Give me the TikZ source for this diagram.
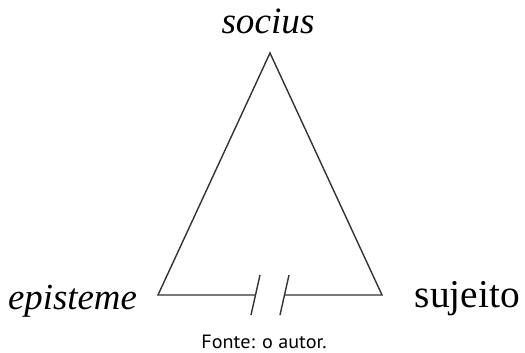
\documentclass[tikz,border=0pt]{standalone}
\usepackage{fontspec}
\setmainfont{Liberation Serif}
\newfontfamily\capfont{PT Sans}
\begin{document}
\begin{tikzpicture}[x=0.5pt,y=-0.5pt,
  edge/.style={draw=black!80,line width=0.7pt},
  lbl/.style={inner sep=0pt,anchor=base}]
\useasboundingbox (0,0) rectangle (525,353);
\coordinate (apex) at (270,53);
\coordinate (bl) at (158,295);
\coordinate (br) at (382,295);
\coordinate (gl) at (255.5,295);
\coordinate (gr) at (284.5,295);
\coordinate (s1t) at (260,275);
\coordinate (s1b) at (251,315);
\coordinate (s2t) at (289,275);
\coordinate (s2b) at (280,315);
\draw[edge,line join=miter] (gl) -- (bl) -- (apex) -- (br) -- (gr);
\draw[edge] (s1t) -- (s1b);
\draw[edge] (s2t) -- (s2b);
\node[lbl,font=\fontsize{18.6}{20}\selectfont\itshape] (socius) at (268,34) {socius};
\node[lbl,font=\fontsize{18.4}{20}\selectfont\itshape] (episteme) at (72.5,309) {episteme};
\node[lbl,font=\fontsize{19.7}{22}\selectfont] (sujeito) at (467.5,307) {sujeito};
\node[lbl,font=\capfont\fontsize{9.6}{11}\selectfont,xscale=1.05] (fonte) at (264,348) {Fonte: o autor.};
\end{tikzpicture}
\end{document}
